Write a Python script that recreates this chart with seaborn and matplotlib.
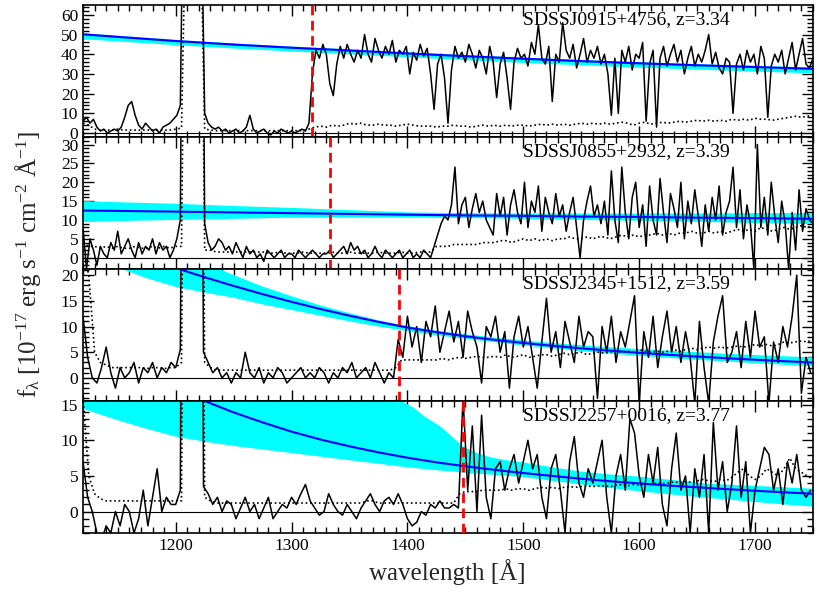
import numpy as np
import matplotlib
matplotlib.use("Agg")
import matplotlib.pyplot as plt
import seaborn as sns
from matplotlib.ticker import MultipleLocator

# ---------------- data ----------------
names = ["SDSSJ0915+4756, z=3.34", "SDSSJ0855+2932, z=3.39",
         "SDSSJ2345+1512, z=3.59", "SDSSJ2257+0016, z=3.77"]
lya_edge = [1318, 1333, 1393, 1448]
ylims = [(-2, 65), (-3, 32), (-4.5, 21.2), (-3, 15.5)]
ymajor = [10, 5, 5, 5]

wl_3 = np.arange(1120, 1751, 3)    # pixel grid of spectra 1, 2
wl_4 = np.arange(1120, 1749, 4)    # pixel grid of spectra 3, 4
wl_err = np.arange(1120, 1751, 5)  # grid of the dotted spectra

flux1 = [6, 8, 5, 7, 3, 1, 2, 0, 1, 2,
         1, 3, 8, 14, 16, 9, 4, 2, 5, 3,
         1, 2, 0, 3, 4, 5, 7, 9, 14, 150,
         150, 150, 150, 150, 120, 10, 5, 3, 2, 3,
         1, 2, 0, 1, 2, 0, 1, 3, 9, 2,
         0, 1, 2, 0, -1, 1, 0, 2, 1, 0,
         1, 0, 1, 2, 1, 5, 30, 42, 38, 45,
         40, 25, 19, 35, 44, 38, 45, 40, 36, 42,
         38, 50, 40, 36, 48, 42, 38, 44, 40, 47,
         36, 42, 40, 44, 30, 41, 37, 45, 39, 43,
         30, 12, 35, 40, 28, 5, 32, 44, 38, 41,
         36, 45, 40, 33, 42, 38, 30, 44, 36, 18,
         35, 41, 28, 12, 36, 43, 38, 40, 34, 46,
         40, 55, 38, 35, 44, 16, 40, 36, 56, 42,
         38, 45, 33, 40, 48, 36, 42, 38, 44, 35,
         40, 30, 9, 38, 10, 42, 36, 44, 32, 40,
         38, 46, 6, 35, 42, 3, 38, 44, 34, 40,
         45, 36, 42, 30, 38, 44, 34, 40, 36, 42,
         50, 35, 41, 33, 30, 38, 36, 10, 35, 40,
         32, 42, 36, 40, 30, 44, 38, 8, 34, 40,
         36, 42, 30, 38, 46, 32, 40, 48, 35, 33,
         38]
err1 = [5, 4, 2, 1.5, 1.5, 1.5, 2, 1.5, 1.5, 1.5,
        1.5, 1.5, 1.5, 1.5, 1.5, 1.5, 2, 2.5, 150, 150,
        150, 2, 1.5, 1.2, 1.2, 1.2, 1.2, 1.2, 1.2, 1.2,
        1.2, 1.2, 1.2, 1.2, 1.2, 1.2, 1.2, 1.2, 1.2, 2,
        3, 3.5, 3, 4, 3.5, 4, 5, 4.5, 5, 4,
        4, 4.5, 4, 4, 3.5, 4, 4.5, 4, 3.5, 3.5,
        3.5, 3, 3.5, 3.5, 4, 3.5, 3.5, 3, 3.5, 4,
        3.5, 4, 3.5, 4, 3.5, 4, 4, 3.5, 4, 4.5,
        4, 4.5, 4, 4.5, 4, 4.5, 5, 4.5, 5, 4.5,
        5, 4.5, 5, 5.5, 5, 4, 5, 5.5, 4.5, 5,
        5.5, 5, 5.5, 6, 5.5, 6, 6.5, 6, 6.5, 6,
        6.5, 6, 7, 6.5, 7, 6.5, 7.5, 7, 7, 6.5,
        7, 7.5, 8, 8.5, 8, 8.5, 9]

flux2 = [8, -3, 5, 2, -2, 3, 1, 0, 4, 2,
         7, 1, 3, 5, 2, 0, 4, 1, 3, 2,
         5, 1, 4, 2, 3, 0, 2, 5, 10, 150,
         150, 150, 150, 150, 150, 9, 4, 2, 3, 5,
         4, 2, 3, 1, 4, 2, 0, 3, 1, 2,
         0, 1, -1, 2, 1, 0, 1, 2, 0, 1,
         1, 0, 2, 1, 0, 1, 2, 1, 0, 1,
         1, 2, 0, 1, 2, 3, 1, 4, 2, 3,
         1, 2, 0, 1, 3, 1, 0, 2, 1, 0,
         1, 2, 0, 1, 2, 0, 1, 0, 2, 1,
         0, 3, 6, 9, 11, 10, 14, 24, 9, 14,
         16, 8, 13, 17, 12, 15, 10, 8, 6, 17,
         11, 16, 6, 14, 18, 12, 9, 20, 8, 15,
         12, 19, 7, 16, 12, 9, 17, 11, 14, 7,
         12, 16, 8, 0, 10, 15, 19, 11, 14, 9,
         15, 6, 23, 10, 4, 24, 12, 5, 16, 20,
         8, 14, 3, 19, 10, 6, 21, 12, 4, 17,
         13, 8, 20, 5, 15, 9, 18, 11, 3, 14,
         7, 16, 10, 19, 6, 12, 15, 24, 8, 18,
         5, 14, 9, -3, 30, 8, 16, 6, 20, 11,
         4, 15, 9, -3, 12, 2, 18, 7, 13, 10,
         9]
err2 = [4, 3, 3, 2.5, 3, 2.5, 3, 2.5, 2.5, 3,
        2.5, 2.5, 3, 2.5, 3, 2.5, 3, 3, 150, 150,
        150, 2, 2, 1.5, 1.5, 1.5, 1.5, 1.5, 1.5, 1.5,
        1.5, 1.5, 1.2, 1.2, 1.5, 1.2, 1.2, 1.2, 1.5, 1.2,
        1.2, 1.2, 1.2, 1.5, 1.2, 1.2, 1.5, 1.2, 1.2, 1.2,
        1.2, 1.5, 1.2, 1.2, 1.2, 1.5, 1.2, 1.2, 1.5, 1.5,
        1.5, 3, 3, 3, 3.5, 3.5, 3.5, 3.5, 3.5, 4,
        4, 4, 4.5, 4.5, 4, 4.5, 5, 4.5, 5, 4.5,
        5, 4.5, 5, 5, 5.5, 5, 5, 5.5, 5, 5.5,
        5.5, 5, 5.5, 6, 5.5, 6, 5.5, 6, 6, 6.5,
        6, 6.5, 6, 6.5, 6.5, 7, 6.5, 6.5, 7, 6.5,
        7, 6.5, 7, 7.5, 7, 7.5, 7, 8, 7.5, 7,
        7.5, 8, 7.5, 8, 8.5, 8, 8.5]

flux3 = [12, 4, 0, -1, 2, 6, 1, -2, 2, 0,
         1, 3, -1, 2, 1, 3, 0, 2, 1, 3,
         2, 5.5, 150, 150, 150, 150, 5, 3, 1, 2,
         0, 1, -1, 1, 0, 5, 1, 0, 2, -1,
         1, 0, 2, 1, -1, 0, 1, 2, 0, 1,
         0, 2, 1, -1, 1, 0, 2, 1, 3, 0,
         1, 2, 0, 3, 1, -1, 1, 0, 7.5, 4,
         12, 6, 10, 3, 11, 8, 14, 5, 9, 13,
         7, 11, 4, 13, 9, 6, -1, 10, 8, 12,
         5, 9, -2, 8, 12, 6, 10, 4, -2, 7,
         15.5, 5, 9, 2, 11, 7, 3, 12, 6, 9,
         8, -4, 10, 5, 12, 3, 9, 6, 11, 16,
         -5, 9, 4, 12, 2, 8, 13, 5, 10, 3,
         9, 4, -5, 11, 2, -5, 7, 12, 16, 3,
         5, 9, 2, 11, 4, 13, 6, 8, -5, 7,
         3, 10, 6, 12, 20, -3, 4, 1]
err3 = [25, 20, 5, 3, 2.5, 2, 2, 2, 2, 2,
        2, 1.8, 2, 2, 1.8, 2, 2, 3, 150, 150,
        150, 3, 2, 1.5, 1.5, 1.5, 1.5, 1.5, 1.5, 1.5,
        1.5, 1.5, 1.5, 1.5, 1.5, 1.5, 1.5, 1.5, 1.5, 1.5,
        1.5, 1.5, 1.5, 1.5, 1.5, 1.5, 1.5, 1.5, 1.5, 1.5,
        1.5, 1.5, 1.5, 1.5, 2, 3.5, 3.5, 3.5, 3.5, 3.5,
        3.5, 3.5, 3.8, 3.5, 3.8, 4, 3.8, 4, 4.2, 4,
        4, 4.2, 4, 4.5, 4, 4.2, 4.5, 4, 4.2, 4.5,
        4.5, 4.2, 4.5, 4.8, 4.5, 4.8, 5, 4.5, 4.8, 5,
        4.8, 5, 5.2, 5, 5.2, 5, 5.5, 5.2, 5, 5.2,
        5, 5.2, 5.5, 5.2, 5.5, 5.8, 5.5, 5.8, 6, 5.8,
        6, 5.8, 6, 6.2, 6, 6.2, 6.5, 6.2, 6.5, 6.2,
        6.5, 7, 6.8, 7, 7.2, 7, 7.5]

flux4 = [7, 2, 0, -3, -4, -2, -3, 0, -2, 1,
         0, -3, -1, 3, -2, 2, 6, 0, 2, 1,
         1, 3, 150, 150, 150, 150, 3.5, 2.5, 1, 2,
         0, 1.5, 1, -1, 0.5, 2, 0, 1, -1, 0.5,
         2, -1, 0, 1, 0.5, 2, 1, 2.5, 3.8, 1.5,
         0.5, -0.5, 0, 2.5, 1, 0, -0.5, 1, 0, -1,
         0.5, 1.5, 2.5, 1, 0, 1.5, 2, 1, 2.5, 1,
         -1, -2, -1.5, 0, -0.5, 1, 0.5, 1.5, 0.5, 0.5,
         1, 0.5, 16, 3, 12, 0, 13.5, 2, -1, 6,
         7, 3, 6, 8, 4, 7, 10, 6, 8, 2,
         -1, 6, 8, 3, -3, 7, 10.5, 4, 2, 6,
         4, 7, 10, 2, -3, 5, 8, 3, 13, 11,
         5, 2, 8, 4, 9, 1, -2, 6, 11, 3,
         5, -3, 6, 2, 8, -3, 12.5, 3, 7, 0,
         4, 12, 2, 7, -3, 3, 6, 9, 8, 3,
         6, 1, 7, 4, 8, 3, 2, 3]
err4 = [16, 5, 2.5, 1.8, 1.5, 1.5, 1.5, 1.5, 1.5, 1.5,
        1.5, 1.5, 1.5, 1.5, 1.5, 1.5, 1.5, 1.5, 150, 150,
        150, 2, 1.5, 1.2, 1.2, 1.2, 1.2, 1.2, 1.2, 1.2,
        1.2, 1.2, 1.2, 1.2, 1.2, 1.2, 1.2, 1.2, 1.2, 1.2,
        1.2, 1.2, 1.2, 1.2, 1.2, 1.2, 1.2, 1.2, 1.2, 1.5,
        1.5, 1.2, 1.2, 1.2, 1.2, 1.2, 1.2, 1.2, 1.2, 1.2,
        1.2, 1.2, 1.2, 1.2, 1.2, 2.5, 2.8, 2.8, 2.8, 3,
        3, 3, 3, 3.2, 3, 3.2, 3.2, 3, 3.2, 3.4,
        3.3, 3.4, 3.2, 3.4, 3.5, 3.4, 3.5, 3.6, 3.5, 3.6,
        3.6, 3.5, 3.7, 3.8, 3.6, 3.8, 3.7, 3.9, 3.8, 4,
        3.9, 4, 4.2, 4, 4.2, 4.1, 4.3, 4.5, 4.3, 4.2,
        4.5, 4.3, 4.8, 5.5, 6, 5, 4.5, 5, 6, 5.5,
        5, 6, 7.5, 6, 5.5, 5, 4.5]

# continuum model (blue) and its uncertainty band (cyan)
wl_model_a = [1120, 1150, 1200, 1250, 1300, 1350, 1400, 1450, 1500, 1550, 1600, 1650, 1700, 1750]
model1 = [50.1, 48.8, 46.7, 44.9, 43.3, 41.9, 40.4, 39.0, 37.7, 36.5, 35.4, 34.4, 33.5, 32.6]
band1_lo = [47.6, 46.5, 44.6, 42.9, 41.4, 40.0, 38.5, 37.0, 35.6, 34.4, 33.2, 32.2, 31.2, 30.3]
band1_hi = [50.7, 49.4, 47.3, 45.5, 43.9, 42.5, 41.0, 39.6, 38.3, 37.1, 36.0, 35.0, 34.1, 33.3]
model2 = [12.5, 12.4, 12.2, 12.0, 11.8, 11.6, 11.4, 11.2, 11.1, 10.9, 10.8, 10.6, 10.5, 10.3]
band2_lo = [9.5, 9.7, 10.0, 10.3, 10.6, 10.6, 10.6, 10.5, 10.3, 10.0, 9.8, 9.5, 9.2, 8.9]
band2_hi = [15.0, 14.7, 14.3, 13.7, 13.2, 12.6, 12.0, 11.8, 11.7, 11.7, 11.7, 11.7, 11.8, 11.8]

wl_model_b = [1120, 1150, 1175, 1200, 1225, 1250, 1275, 1300, 1325, 1350, 1375, 1400, 1425,
              1450, 1475, 1500, 1525, 1550, 1575, 1600, 1625, 1650, 1675, 1700, 1725, 1750]
model3 = [28.2, 25.6, 23.4, 21.4, 19.6, 17.9, 16.3, 14.8, 13.4, 12.1, 10.9, 9.8, 8.9,
          8.1, 7.4, 6.8, 6.25, 5.75, 5.3, 4.88, 4.5, 4.15, 3.83, 3.53, 3.25, 2.99]
band3_lo = [24.2, 21.5, 19.4, 17.7, 16.6, 15.6, 14.3, 13.2, 12.1, 11.0, 10.0, 9.1, 8.3,
            7.6, 6.95, 6.3, 5.75, 5.2, 4.7, 4.3, 3.9, 3.5, 3.2, 2.85, 2.55, 2.25]
band3_hi = [38, 33, 29, 25.5, 22.5, 20, 17.8, 15.9, 14.1, 12.6, 11.2, 10.1, 9.2,
            8.5, 7.85, 7.3, 6.8, 6.35, 5.95, 5.6, 5.3, 5.0, 4.7, 4.45, 4.2, 4.0]
model4 = [25, 21.8, 19.5, 17.4, 15.5, 13.9, 12.5, 11.2, 10.1, 9.15, 8.3, 7.55, 6.9,
          6.35, 5.85, 5.4, 5.0, 4.6, 4.25, 3.95, 3.65, 3.4, 3.15, 2.92, 2.7, 2.5]
band4_lo = [14.4, 12.8, 11.6, 10.5, 9.8, 9.2, 8.7, 8.2, 7.7, 7.2, 6.7, 6.2, 5.8,
            5.45, 5.15, 4.85, 4.3, 3.8, 3.3, 2.85, 2.45, 2.05, 1.7, 1.35, 1.0, 0.7]
wl_band4_hi = [1120, 1380, 1390, 1396, 1405, 1415, 1428, 1440, 1448, 1460, 1472, 1485,
               1500, 1525, 1550, 1575, 1600, 1630, 1660, 1700, 1750]
band4_hi = [40, 19, 16.5, 15.4, 14.6, 13.3, 12.0, 10.3, 9.1, 8.2, 7.6, 7.2,
            6.9, 6.2, 5.6, 5.2, 4.9, 4.4, 3.9, 3.6, 3.2]

spectra = [(wl_3, flux1, err1), (wl_3, flux2, err2), (wl_4, flux3, err3), (wl_4, flux4, err4)]
models = [(wl_model_a, model1), (wl_model_a, model2), (wl_model_b, model3), (wl_model_b, model4)]
bands = [(wl_model_a, band1_lo, wl_model_a, band1_hi),
         (wl_model_a, band2_lo, wl_model_a, band2_hi),
         (wl_model_b, band3_lo, wl_model_b, band3_hi),
         (wl_model_b, band4_lo, wl_band4_hi, band4_hi)]

# ---------------- style ----------------
sns.set_theme(style="ticks", rc={"axes.edgecolor": "black", "xtick.color": "black",
                                 "ytick.color": "black", "axes.linewidth": 1.2})
plt.rcParams["font.family"] = ["Liberation Serif", "DejaVu Serif"]
plt.rcParams["mathtext.fontset"] = "custom"
plt.rcParams["mathtext.rm"] = "Liberation Serif"
plt.rcParams["mathtext.it"] = "Liberation Serif:italic"
plt.rcParams["mathtext.default"] = "rm"

fig = plt.figure(figsize=(8.3, 5.93), dpi=100)
left, right, bottom, top = 0.100, 0.9795, 0.1012, 0.9916
h = (top - bottom) / 4
axes = []
for i in range(4):
    ax = fig.add_axes([left, top - (i + 1) * h, right - left, h])
    axes.append(ax)

for i, ax in enumerate(axes):
    wl, fl, er = spectra[i]
    mwl, mod = models[i]
    bwl_lo, blo, bwl_hi, bhi = bands[i]
    poly_x = list(bwl_hi) + list(bwl_lo)[::-1]
    poly_y = list(bhi) + list(blo)[::-1]
    ax.fill(poly_x, poly_y, color="#00FFFF", lw=0, zorder=1)
    ax.axhline(0, color="black", lw=0.8, zorder=2)
    sns.lineplot(x=wl, y=fl, ax=ax, color="black", lw=1.1, estimator=None,
                 sort=False, zorder=3)
    sns.lineplot(x=wl_err, y=er, ax=ax, color="black", lw=1.2, linestyle=":",
                 estimator=None, sort=False, zorder=3)
    sns.lineplot(x=mwl, y=mod, ax=ax, color="#0000FF", lw=1.5,
                 estimator=None, sort=False, zorder=4)
    ax.axvline(lya_edge[i], color="red", lw=2, ls=(0, (3.5, 2)), zorder=5)
    ax.text(0.603, 0.955, names[i], transform=ax.transAxes, ha="left", va="top",
            fontsize=14, color="black", zorder=6)
    ax.set_xlim(1120, 1750)
    ax.set_ylim(*ylims[i])
    ax.xaxis.set_major_locator(MultipleLocator(100))
    ax.xaxis.set_minor_locator(MultipleLocator(10))
    ax.yaxis.set_major_locator(MultipleLocator(ymajor[i]))
    ax.yaxis.set_minor_locator(MultipleLocator(ymajor[i] / 5))
    ax.tick_params(which="both", direction="in", top=True, right=True,
                   labelsize=12.5, width=1)
    ax.tick_params(which="major", length=8)
    ax.tick_params(which="minor", length=4)
    ax.set_xlabel("")
    ax.set_ylabel("")
    if i < 3:
        ax.tick_params(labelbottom=False)
    for s in ax.spines.values():
        s.set_linewidth(1.2)
        s.set_color("black")

fig.text(0.034, 0.555, r"f$_\lambda$ [10$^{-17}$ erg s$^{-1}$ cm$^{-2}$ Å$^{-1}$]",
         rotation=90, ha="center", va="center", fontsize=18)
fig.text(0.539, 0.035, "wavelength [Å]", ha="center", va="center", fontsize=18)

fig.savefig("out.png", dpi=100)
